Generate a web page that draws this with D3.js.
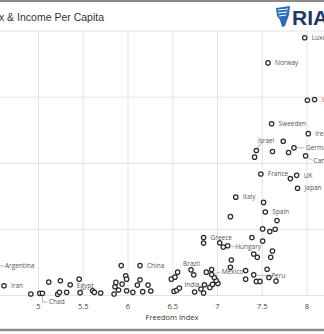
<!DOCTYPE html>
<html>
<head>
<meta charset="utf-8">
<script src="https://cdn.jsdelivr.net/npm/d3@7"></script>
<style>
  body { margin: 0; background: #fff; }
  svg { display: block; }
</style>
</head>
<body>
<script>
// Freedom index vs income per capita (thousand $)

var freedom = [4.53, 4.62, 4.92, 5.02, 5.05, 5.12, 5.22, 5.24, 5.25, 5.32,
  5.36, 5.46, 5.47, 5.61, 5.63, 5.70, 5.85, 5.86, 5.87, 5.90,
  5.93, 5.94, 5.98, 5.99, 5.99, 6.06, 6.11, 6.14, 6.14, 6.17,
  6.23, 6.26, 6.49, 6.53, 6.56, 6.52, 6.55, 6.58, 6.71, 6.74,
  6.75, 6.82, 6.85, 6.86, 6.92, 6.95, 7.01, 6.99, 6.97, 6.94,
  6.94, 6.88, 6.85, 6.85, 7.03, 7.07, 7.12, 7.15, 7.16, 7.15,
  7.32, 7.32, 7.39, 7.51, 7.62, 7.41, 7.45, 7.60, 7.56, 7.41,
  7.44, 7.48, 7.58, 7.66, 7.51, 7.59, 7.65, 7.67, 7.54, 7.52,
  7.21, 7.49, 7.89, 7.82, 7.90, 7.44, 7.42, 7.62, 7.74, 7.80,
  7.86, 7.99, 8.02, 7.61, 8.01, 8.09, 7.57, 7.98];

var income = [8.8, 2.8, 0.3, 0.5, 0.5, 3.9, 0.2, 0.8, 4.3, 0.8,
  3.1, 4.8, 0.7, 1.3, 0.8, 0.6, 0.3, 2.5, 3.8, 1.5,
  8.9, 3.3, 5.8, 4.8, 1.3, 0.8, 3.0, 4.6, 8.9, 1.0,
  3.0, 1.2, 4.8, 5.4, 6.9, 1.1, 1.4, 2.1, 7.6, 6.1,
  0.9, 1.8, 0.6, 3.1, 2.3, 3.2, 3.5, 4.4, 5.3, 6.2,
  7.7, 6.9, 17.4, 15.7, 15.8, 14.5, 14.9, 23.7, 10.6, 8.4,
  7.4, 4.8, 17.4, 16.3, 13.3, 12.4, 11.4, 11.4, 7.8, 6.1,
  4.1, 4.1, 5.3, 4.2, 20.0, 19.2, 19.9, 22.5, 25.1, 28.0,
  29.6, 36.6, 36.2, 35.2, 32.3, 43.7, 41.7, 43.4, 46.5, 43.1,
  44.5, 42.1, 48.8, 51.8, 58.9, 59.1, 70.2, 77.8];

var country = ['Argentina', 'Iran', '', '', 'Chad', '', '', '', '', '',
  '', 'Egypt', '', '', '', '', '', '', '', '',
  '', '', '', '', '', '', '', '', 'China', '',
  '', '', '', '', '', '', '', '', 'Brazil', '',
  '', '', '', 'India', '', '', '', '', '', 'Mexico',
  '', '', 'Greece', '', '', '', 'Hungary', '', '', '',
  '', '', '', '', '', '', '', '', '', 'Peru',
  '', '', '', '', '', '', '', '', 'Spain', '',
  'Italy', 'France', 'UK', '', 'Japan', 'Israel', '', '', '', '',
  'Germany', 'Canada', 'Ireland', 'Sweeden', '', 'US', 'Norway', 'Luxembourg'];

var xTicks = [5, 5.5, 6, 6.5, 7, 7.5, 8];
var yTicks = [0, 20, 40, 60, 80];

var width = 324;
var height = 334;

var svg = d3.select('body').append('svg')
    .attr('width', width)
    .attr('height', height);

var x = d3.scaleLinear().domain([5, 8]).range([38, 306.5]);
var y = d3.scaleLinear().domain([0, 80]).range([295, 30.5]);

// frame lines
svg.append('line')
    .attr('x1', 0).attr('x2', width).attr('y1', 1).attr('y2', 1)
    .attr('stroke', '#8a8a8a').attr('stroke-width', 2);
svg.append('line')
    .attr('x1', 0).attr('x2', width).attr('y1', 330).attr('y2', 330)
    .attr('stroke', '#8a8a8a').attr('stroke-width', 2.5);

// title (cut off at the left like the source)
svg.append('text')
    .attr('x', 104).attr('y', 21)
    .attr('text-anchor', 'end')
    .style('font-family', 'Arial, "Liberation Sans", sans-serif')
    .style('font-size', '10.5px')
    .style('fill', '#333')
    .text('Freedom Index & Income Per Capita');

// logo
var logo = svg.append('g').attr('transform', 'translate(275,6)');
logo.append('path')
    .attr('d', 'M1,2 L15,0 L14,9 L10,20 L7,21 L5,14 L2,10 Z')
    .attr('fill', '#2a6db5');
logo.append('path')
    .attr('d', 'M3,4 L13,3 M3,7 L12,6 M4,10 L11,9')
    .attr('stroke', '#fff').attr('stroke-width', 1);
logo.append('text')
    .attr('x', 17).attr('y', 19)
    .style('font-family', 'Arial, "Liberation Sans", sans-serif')
    .style('font-weight', 'bold')
    .style('font-size', '21px')
    .style('fill', '#1d3767')
    .text('RIA');

// grid
var xGrid = [4.5].concat(xTicks);
svg.append('g')
    .attr('transform', 'translate(0,295)')
    .call(d3.axisBottom(x).tickValues(xGrid).tickSize(-264.5).tickFormat(''))
    .call(function(g){ g.select('.domain').remove(); })
    .selectAll('line').attr('stroke', '#e3e3e3');

svg.append('g')
    .attr('transform', 'translate(' + width + ',0)')
    .call(d3.axisLeft(y).tickValues(yTicks).tickSize(width).tickFormat(''))
    .call(function(g){ g.select('.domain').remove(); })
    .selectAll('line').attr('stroke', '#e3e3e3');

// x tick labels
var xax = svg.append('g')
    .attr('transform', 'translate(0,301)')
    .call(d3.axisBottom(x).tickValues(xTicks).tickSize(0).tickFormat(d3.format('')));
xax.select('.domain').remove();
xax.selectAll('text')
    .style('font-family', '"Open Sans", sans-serif')
    .style('font-size', '7.5px')
    .style('fill', '#444');

svg.append('text')
    .attr('x', 172).attr('y', 320)
    .attr('text-anchor', 'middle')
    .style('font-family', '"Open Sans", sans-serif')
    .style('font-size', '7.5px')
    .style('fill', '#333')
    .text('Freedom Index');

// label placement for the annotated countries
var place = {
  'Argentina': { dx: 9, dy: 0, lead: [[3, 0], [8, 0]] },
  'Chad': { dx: 6.5, dy: 8.7, lead: [[0, 3], [0, 8.7], [5, 8.7]] },
  'Egypt': { dx: -2.3, dy: 6.4 },
  'Brazil': { dx: -8, dy: -5.7 },
  'India': { dx: -5, dy: -0.5, anchor: 'end' },
  'Mexico': { dx: 10, dy: -2.5, lead: [[3, -1], [9, -2.5]] },
  'Hungary': { dx: 7.5, dy: 1.3, lead: [[3, 0.5], [7, 1.3]] },
  'Peru': { dx: 17.5, dy: 1, lead: [[3, 0.5], [16, 0.5]] },
  'Israel': { dx: 1.5, dy: -10, lead: [[1.5, -2.5], [5, -7.5]] },
  'Germany': { dx: 12, dy: 0, lead: [[3, 0], [10, 0]] },
  'Canada': { dx: 8, dy: 5, lead: [[2.5, 2], [7, 4.5]] },
  'US': { dx: 7.5, dy: 0, color: '#c0392b' }
};

var pts = freedom.map(function(f, i){
  return { f: f, v: income[i], name: country[i] };
});

var labelled = pts.filter(function(d){ return d.name !== ''; });

svg.append('g').selectAll('path')
    .data(labelled.filter(function(d){ return place[d.name] && place[d.name].lead; }))
    .join('path')
    .attr('d', function(d){
      var p = place[d.name].lead;
      return d3.line()(p.map(function(q){ return [x(d.f) + q[0], y(d.v) + q[1]]; }));
    })
    .attr('fill', 'none')
    .attr('stroke', '#999')
    .attr('stroke-width', 0.7);

svg.append('g').selectAll('circle')
    .data(pts)
    .join('circle')
    .attr('cx', function(d){ return x(d.f); })
    .attr('cy', function(d){ return y(d.v); })
    .attr('r', 2.2)
    .attr('fill', '#fff')
    .attr('stroke', '#2b2b2b')
    .attr('stroke-width', 1.25);

svg.append('g').selectAll('text')
    .data(labelled)
    .join('text')
    .attr('x', function(d){ var p = place[d.name]; return x(d.f) + (p ? p.dx : 7); })
    .attr('y', function(d){ var p = place[d.name]; return y(d.v) + (p ? p.dy : 0); })
    .attr('dy', '0.35em')
    .attr('text-anchor', function(d){ var p = place[d.name]; return p && p.anchor ? p.anchor : 'start'; })
    .style('font-family', '"Open Sans", sans-serif')
    .style('font-size', '6.5px')
    .style('fill', function(d){ var p = place[d.name]; return p && p.color ? p.color : '#555'; })
    .text(function(d){ return d.name; });
</script>
</body>
</html>
